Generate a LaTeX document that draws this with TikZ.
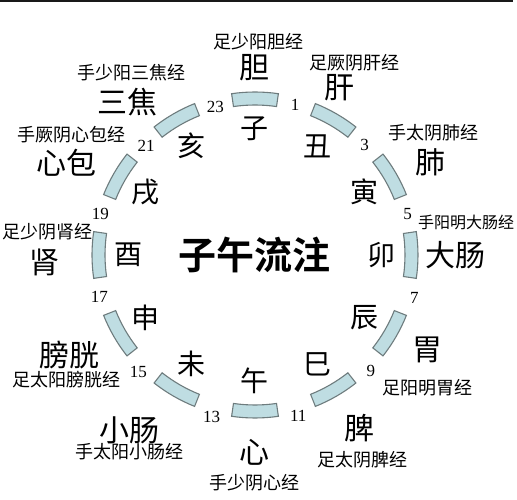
\documentclass[tikz,border=0pt]{standalone}
\usepackage{fontspec}
\setmainfont{Liberation Serif}
\newfontfamily\cjk[BoldFont={* Bold}]{Noto Sans CJK SC}
\definecolor{segfill}{HTML}{BFDDE2}
\definecolor{segline}{HTML}{6E7C7E}

\begin{document}
\begin{tikzpicture}[x=1pt, y=1pt,
    segmento/.style={fill=segfill, draw=segline, line width=1.1pt},
    rama/.style={font=\cjk\fontsize{28}{28}\selectfont},
    organo/.style={font=\cjk\fontsize{30}{30}\selectfont},
    meridiano/.style={font=\cjk\fontsize{18}{18}\selectfont},
    hora/.style={font=\fontsize{17}{17}\selectfont}]
  % Marco de la figura
  \useasboundingbox (-255,-245) rectangle (262,255);
  \fill[black!90] (-255,253) rectangle (258,255);

  % Segmentos del reloj y ramas terrestres
  \foreach \ang/\ram [count=\i] in {90/子, 60/丑, 30/寅, 0/卯, -30/辰, -60/巳, -90/午, -120/未, -150/申, 180/酉, 150/戌, 120/亥} {
    \draw[segmento] ({\ang-8.25}:150) arc[start angle={\ang-8.25}, end angle={\ang+8.25}, radius=150pt]
      -- ({\ang+8.25}:163) arc[start angle={\ang+8.25}, end angle={\ang-8.25}, radius=163pt] -- cycle;
    \node[rama] (r\i) at (\ang:126) {\ram};
  }

  % Horas entre segmentos
  \foreach \ang/\num/\rad in {75/1/155, 45/3/155, 15/5/158, -15/7/165, -45/9/164, -75/11/167,
      -105/13/168, -135/15/165, -165/17/161, 165/19/160, 135/21/154, 105/23/153}
    \node[hora] (h\num) at (\ang:\rad) {\num};

  % Titulo central
  \node[font=\cjk\bfseries\fontsize{38}{38}\selectfont] (titulo) at (0,0) {子午流注};

  % Organos
  \node[organo] (dan) at (0,187) {胆};
  \node[organo] (gan) at (85,167) {肝};
  \node[organo] (fei) at (175,93) {肺};
  \node[organo] (dachang) at (200,0) {大肠};
  \node[organo] (wei) at (172,-95) {胃};
  \node[organo] (pi) at (105,-173) {脾};
  \node[organo] (xin) at (0,-197) {心};
  \node[organo] (xiaochang) at (-125,-175) {小肠};
  \node[organo] (pangguang) at (-185,-100) {膀胱};
  \node[organo] (shen) at (-210,-7) {肾};
  \node[organo] (xinbao) at (-188,92) {心包};
  \node[organo] (sanjiao) at (-127,153) {三焦};

  % Meridianos
  \node[meridiano] (mdan) at (4,213) {足少阳胆经};
  \node[meridiano] (mgan) at (100,192) {足厥阴肝经};
  \node[meridiano] (mfei) at (178,122) {手太阴肺经};
  \node[meridiano, font=\cjk\fontsize{16}{16}\selectfont] (mdachang) at (211,33) {手阳明大肠经};
  \node[meridiano] (mwei) at (173,-133) {足阳明胃经};
  \node[meridiano] (mpi) at (108,-205) {足太阴脾经};
  \node[meridiano] (mxin) at (0,-228) {手少阴心经};
  \node[meridiano] (mxiaochang) at (-125,-197) {手太阳小肠经};
  \node[meridiano] (mpangguang) at (-188,-125) {足太阳膀胱经};
  \node[meridiano] (mshen) at (-207,23) {足少阴肾经};
  \node[meridiano] (mxinbao) at (-183,120) {手厥阴心包经};
  \node[meridiano] (msanjiao) at (-123,182) {手少阳三焦经};
\end{tikzpicture}
\end{document}
